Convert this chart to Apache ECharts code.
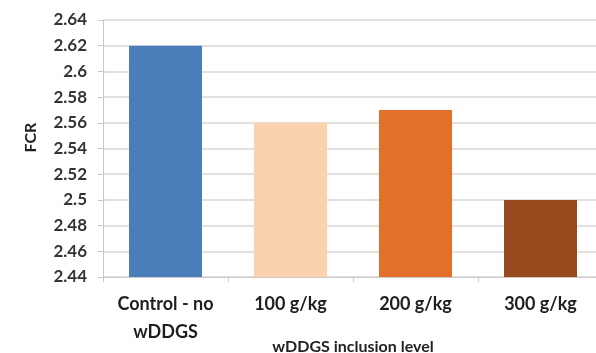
<!DOCTYPE html>
<html><head><meta charset="utf-8">
<script src="https://cdn.jsdelivr.net/npm/echarts@6/dist/echarts.min.js"></script>
<style>html,body{margin:0;padding:0;background:#fff}#c{width:596px;height:353px}</style>
</head><body><div id="c"></div>
<script>
const categories = ['Control - no\nwDDGS', '100 g/kg', '200 g/kg', '300 g/kg'];
const fcrValues = [2.62, 2.56, 2.57, 2.50];
const barColors = ['#4A7EBB', '#FAD2AE', '#E2702A', '#984A1F'];
const yMin = 2.44, yMax = 2.64, yStep = 0.02;

const chart = echarts.init(document.getElementById('c'));
chart.setOption({
  animation: false,
  grid: { left: 103, top: 20, width: 500, bottom: 76, containLabel: false, outerBoundsMode: 'none' },
  xAxis: {
    type: 'category',
    data: categories,
    name: 'wDDGS inclusion level',
    nameLocation: 'middle',
    nameGap: 62,
    nameMoveOverlap: false,
    nameTextStyle: { fontFamily: 'Lato', fontWeight: 'bold', fontSize: 16, color: '#222' },
    axisLine: { lineStyle: { color: '#cfc8c8' } },
    axisTick: { show: true, length: 5, lineStyle: { color: '#cfc8c8' } },
    axisLabel: { fontFamily: 'Lato', fontWeight: 'bold', fontSize: 18, color: '#1e1e1e', margin: 13, lineHeight: 28, interval: 0 }
  },
  yAxis: {
    type: 'value',
    min: yMin, max: yMax, interval: yStep,
    name: 'FCR',
    nameLocation: 'middle',
    nameRotate: 90,
    nameGap: 64,
    nameMoveOverlap: false,
    nameTextStyle: { fontFamily: 'Lato', fontWeight: 'bold', fontSize: 16, color: '#1e1e1e', padding: [0, 0, 0, 22] },
    axisLine: { show: true, lineStyle: { color: '#cfc8c8' } },
    axisTick: { show: true, length: 5, lineStyle: { color: '#cfc8c8' } },
    axisLabel: { fontFamily: 'Lato', fontWeight: 'bold', fontSize: 17, color: '#333', margin: 16,
      formatter: v => String(+v.toFixed(2)) },
    splitLine: { lineStyle: { color: '#dcd6d6', width: 1.5 } }
  },
  series: [{
    type: 'bar',
    barWidth: 73,
    data: fcrValues.map((v, i) => ({ value: v, itemStyle: { color: barColors[i] } }))
  }]
});
</script></body></html>
